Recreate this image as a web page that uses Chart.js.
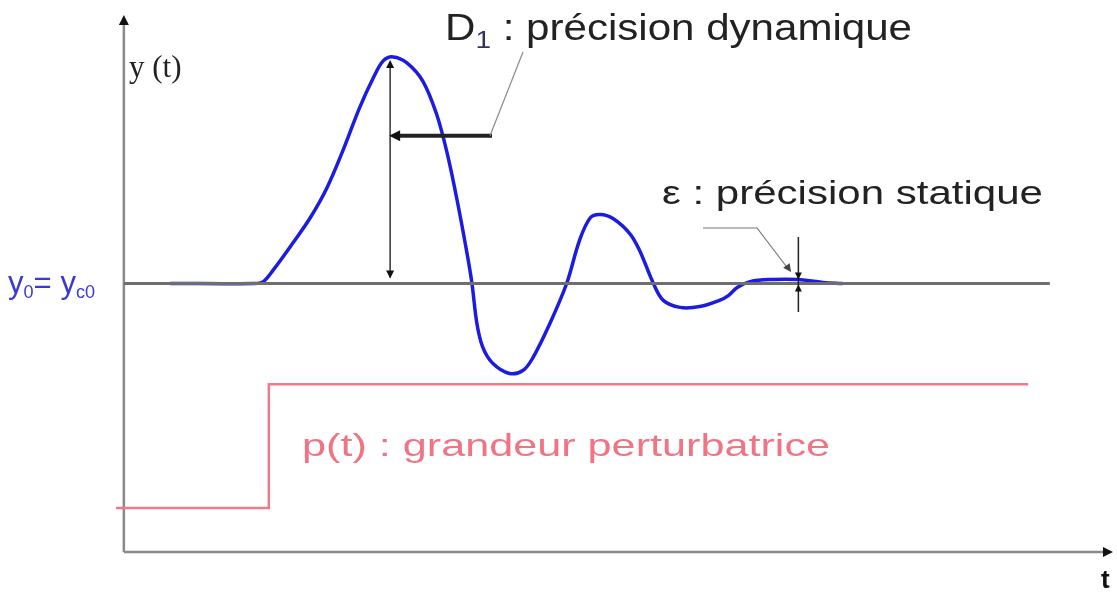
<!DOCTYPE html>
<html>
<head>
<meta charset="utf-8">
<script src="https://cdn.jsdelivr.net/npm/chart.js@4"></script>
<style>
  html, body { margin: 0; padding: 0; background: #fff; }
  #wrap { width: 1117px; height: 592px; }
</style>
</head>
<body>
<div id="wrap"><canvas id="plot" width="1117" height="592"></canvas></div>
<script>
// Réponse y(t) à une perturbation p(t)
const blueT = [0.47, 1.31, 1.41, 1.51, 1.71, 1.89, 2.06, 2.22, 2.39, 2.53, 2.63, 2.73, 2.87, 3.03, 3.17, 3.28, 3.38,
               3.48, 3.53, 3.58, 3.64, 3.74, 3.91, 4.05, 4.15, 4.32, 4.49, 4.62, 4.73, 4.83, 4.96, 5.13,
               5.23, 5.37, 5.47, 5.64, 5.84, 6.04, 6.13, 6.22, 6.35, 6.58, 6.83, 7.09, 7.29];
const blueY = [1.000, 1.000, 1.006, 1.048, 1.149, 1.245, 1.357, 1.494, 1.654, 1.766, 1.829, 1.844, 1.822, 1.755, 1.632, 1.483, 1.309,
               1.112, 1.000, 0.851, 0.762, 0.703, 0.665, 0.677, 0.725, 0.851, 1.000, 1.160, 1.245, 1.257, 1.242, 1.186,
               1.123, 1.000, 0.937, 0.911, 0.914, 0.937, 0.955, 0.985, 1.007, 1.015, 1.015, 1.004, 1.000];

// consigne y0 = yc0
const refT = [0, 9.39];
const refY = [1, 1];

// grandeur perturbatrice (échelon)
const stepT = [-0.08, 1.47, 9.17];
const stepP = [0.164, 0.625, 0.625];

// repères des annotations
const peakT = 2.70, peakY = 1.840;
const epsT = 6.84, epsY = 1.015;

const toXY = (xs, ys) => xs.map((x, i) => ({ x: x, y: ys[i] }));

function arrowHead(ctx, x, y, angle, size) {
    ctx.save();
    ctx.translate(x, y);
    ctx.rotate(angle);
    ctx.beginPath();
    ctx.moveTo(0, 0);
    ctx.lineTo(-size, -size * 0.5);
    ctx.lineTo(-size, size * 0.5);
    ctx.closePath();
    ctx.fill();
    ctx.restore();
}

function line(ctx, x1, y1, x2, y2) {
    ctx.beginPath();
    ctx.moveTo(x1, y1);
    ctx.lineTo(x2, y2);
    ctx.stroke();
}

// texte en plusieurs morceaux, étiré horizontalement pour occuper "width"
function fittedText(ctx, parts, x, y, width) {
    let natural = 0;
    parts.forEach(p => { ctx.font = p.font; natural += ctx.measureText(p.text).width; });
    ctx.save();
    ctx.translate(x, y);
    ctx.scale(width / natural, 1);
    let cx = 0;
    parts.forEach(p => {
        ctx.font = p.font;
        ctx.fillStyle = p.color;
        ctx.fillText(p.text, cx, p.dy || 0);
        cx += ctx.measureText(p.text).width;
    });
    ctx.restore();
}

const SANS = '"Liberation Sans", Arial, sans-serif';

const decorations = {
    id: 'decorations',
    beforeDatasetsDraw(chart) {
        const ctx = chart.ctx;
        const xs = chart.scales.x, ys = chart.scales.y;
        const x0 = xs.getPixelForValue(0), y0 = ys.getPixelForValue(0);
        const top = ys.getPixelForValue(2), right = xs.getPixelForValue(10);
        ctx.save();
        // axes
        ctx.strokeStyle = '#8a8a8a';
        ctx.fillStyle = '#111';
        ctx.lineWidth = 2.5;
        line(ctx, x0, y0, x0, top + 6);
        line(ctx, x0, y0, right - 2, y0);
        arrowHead(ctx, x0, top, -Math.PI / 2, 10);
        arrowHead(ctx, right + 3, y0, 0, 10);
        ctx.restore();
    },
    afterDatasetsDraw(chart) {
        const ctx = chart.ctx;
        const xs = chart.scales.x, ys = chart.scales.y;
        const px = v => xs.getPixelForValue(v), py = v => ys.getPixelForValue(v);
        ctx.save();

        // D1 : double flèche verticale
        const xp = px(peakT);
        ctx.strokeStyle = '#333';
        ctx.fillStyle = '#111';
        ctx.lineWidth = 1.5;
        line(ctx, xp, py(1) - 6, xp, py(peakY) + 6);
        arrowHead(ctx, xp, py(peakY) + 2, -Math.PI / 2, 8);
        arrowHead(ctx, xp, py(1) - 5, Math.PI / 2, 8);

        // flèche horizontale épaisse + trait de rappel
        const ya = py(1.55);
        ctx.strokeStyle = '#222';
        ctx.lineWidth = 4;
        line(ctx, xp + 8, ya, 492, ya);
        arrowHead(ctx, xp - 1, ya, Math.PI, 11);
        ctx.strokeStyle = '#8a8a8a';
        ctx.lineWidth = 1.2;
        line(ctx, 490, ya, 523, 52);

        // epsilon : repère vertical
        const xe = px(epsT);
        ctx.strokeStyle = '#222';
        ctx.lineWidth = 1.5;
        line(ctx, xe, 237, xe, 312);
        ctx.fillStyle = '#111';
        arrowHead(ctx, xe, py(epsY), Math.PI / 2, 7);
        arrowHead(ctx, xe, py(1) + 1, -Math.PI / 2, 7);
        // trait de rappel epsilon
        ctx.strokeStyle = '#777';
        ctx.lineWidth = 1.2;
        ctx.beginPath();
        ctx.moveTo(703, 228);
        ctx.lineTo(757, 228);
        ctx.lineTo(786, 266);
        ctx.stroke();
        ctx.fillStyle = '#444';
        arrowHead(ctx, 791, 272, Math.atan2(40, 28), 8);

        // textes
        ctx.textBaseline = 'alphabetic';
        fittedText(ctx, [
            { text: 'D', font: '36px ' + SANS, color: '#222' },
            { text: '1', font: '24px ' + SANS, color: '#33335a', dy: 8 },
            { text: ' : précision dynamique', font: '36px ' + SANS, color: '#222' }
        ], 445, 40, 467);

        fittedText(ctx, [
            { text: 'ε : précision statique', font: '34px ' + SANS, color: '#222' }
        ], 662, 204, 381);

        fittedText(ctx, [
            { text: 'p(t) : grandeur perturbatrice', font: '32px ' + SANS, color: '#f07484' }
        ], 302, 456, 528);

        ctx.fillStyle = '#222';
        ctx.font = '31px "Liberation Serif", "Times New Roman", serif';
        ctx.fillText('y (t)', 129, 77);

        fittedText(ctx, [
            { text: 'y', font: '31px ' + SANS, color: '#3a3ad0' },
            { text: '0', font: '18px ' + SANS, color: '#3a3ad0', dy: 5 },
            { text: '= y', font: '31px ' + SANS, color: '#3a3ad0' },
            { text: 'c0', font: '18px ' + SANS, color: '#3a3ad0', dy: 5 }
        ], 8, 293, 87);

        ctx.fillStyle = '#111';
        ctx.font = 'bold 26px ' + SANS;
        ctx.fillText('t', 1101, 588);
        ctx.restore();
    }
};

new Chart(document.getElementById('plot'), {
    type: 'line',
    data: {
        datasets: [
            {
                data: toXY(refT, refY),
                borderColor: '#6e6e6e',
                borderWidth: 3,
                pointRadius: 0
            },
            {
                data: toXY(stepT, stepP),
                borderColor: '#f27a88',
                borderWidth: 2.5,
                pointRadius: 0,
                stepped: 'before'
            },
            {
                data: toXY(blueT, blueY),
                borderColor: '#1c1ce0',
                borderWidth: 3.5,
                pointRadius: 0,
                tension: 0.35
            }
        ]
    },
    options: {
        responsive: false,
        animation: false,
        layout: { padding: { left: 114, right: 7, top: 15, bottom: 40 } },
        scales: {
            x: { type: 'linear', min: -0.1, max: 10, display: false },
            y: { type: 'linear', min: 0, max: 2, display: false }
        },
        plugins: {
            legend: { display: false },
            tooltip: { enabled: false }
        }
    },
    plugins: [decorations]
});
</script>
</body>
</html>
